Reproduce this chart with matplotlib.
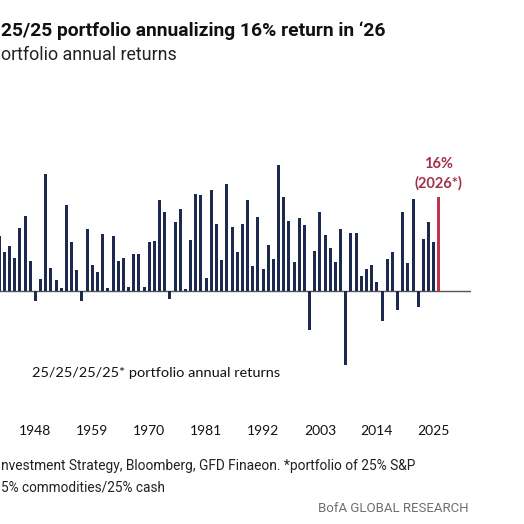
import matplotlib
matplotlib.use("Agg")
import matplotlib.pyplot as plt

# 25/25/25/25 portfolio annual returns (%)
years = list(range(1941, 2027))
returns = [
    9.4, 6.7, 7.6, 5.6, 10.7, 12.8, 5.1, -1.7, 2.0, 19.9,      # 1941-1950
    3.9, 1.9, 0.5, 14.6, 8.3, 3.5, -1.7, 10.6, 4.4, 3.2,       # 1951-1960
    9.8, 0.5, 9.3, 5.2, 5.6, 0.7, 6.3, 6.3, 0.6, 8.4,          # 1961-1970
    8.6, 15.5, 13.4, -1.3, 11.8, 14.0, 0.3, 8.7, 16.6, 16.4,   # 1971-1980
    2.3, 17.3, 11.5, 5.3, 18.2, 11.0, 6.7, 11.4, 15.5, 4.3,    # 1981-1990
    12.6, 3.8, 7.8, 5.5, 21.5, 16.0, 11.9, 5.0, 12.4, 11.3,    # 1991-2000
    -6.7, 6.9, 13.4, 9.6, 7.3, 4.9, 10.5, -12.6, 9.9, 9.9,     # 2001-2010
    2.6, 3.8, 4.5, 1.6, -5.1, 5.4, 6.6, -3.2, 13.4, 4.8,       # 2011-2020
    15.7, -2.7, 8.9, 11.8, 8.4, 16.0,                          # 2021-2026
]
tick_years = [1948, 1959, 1970, 1981, 1992, 2003, 2014, 2025]
highlight_year = 2026

navy = "#1b2a4e"
red = "#c0344c"
narrow = ["Roboto", "DejaVu Sans"]
body = ["Lato", "DejaVu Sans"]

W = 524
fig = plt.figure(figsize=(5.24, 5.24), dpi=100)


def fx(px):
    return px / W


def fy(py):
    return 1 - py / W


def fit_text(x0, x1, y, s, size, **kw):
    # shrink/grow the font so the text spans x0..x1 pixels like the original
    t = fig.text(fx(x0), fy(y), s, ha="left", va="center", fontsize=size, **kw)
    r = fig.canvas.get_renderer()
    w = t.get_window_extent(renderer=r).width
    t.set_fontsize(size * (x1 - x0) / w)
    return t


ax = fig.add_axes([fx(0), fy(400), fx(471), fy(150) - fy(400)])

colors = [red if y == highlight_year else navy for y in years]
ax.bar(years, returns, width=0.58, color=colors, zorder=2)
ax.axhline(0, color="#555555", lw=1.0, zorder=1)

ax.set_xlim(1941.15, 2032.2)
ax.set_ylim(-18.6, 24.06)
ax.set_yticks([])
ax.set_xticks(tick_years)
ax.set_xticklabels([str(t) for t in tick_years], family=body, fontsize=10, color="#111111")
ax.tick_params(axis="x", length=0, pad=18)
for s in ax.spines.values():
    s.set_visible(False)

hi = returns[years.index(highlight_year)]
ax.annotate("16%\n(2026*)", xy=(highlight_year, hi), xytext=(0, 4.5),
            textcoords="offset points", ha="center", va="bottom",
            fontsize=10.5, fontweight="bold", color="#a3304a",
            family=body, linespacing=1.5)

fit_text(32, 280, 373, "25/25/25/25* portfolio annual returns", 10,
         family=body, color="#111111")

fit_text(1, 387, 31, "25/25 portfolio annualizing 16% return in \u201826", 12,
         fontweight="bold", family=narrow, color="#111111")
fit_text(1, 177, 55, "ortfolio annual returns", 12, family=narrow,
         color="#222222")

fit_text(1, 417, 466,
         "nvestment Strategy, Bloomberg, GFD Finaeon. *portfolio of 25% S&P",
         10, family=narrow, color="#222222")
fit_text(1, 165, 487, "5% commodities/25% cash", 10, family=narrow,
         color="#222222")
fit_text(318, 468, 509, "BofA GLOBAL RESEARCH", 10, family=narrow,
         color="#6e6e6e")

fig.savefig("out.png", dpi=100, facecolor="white")
